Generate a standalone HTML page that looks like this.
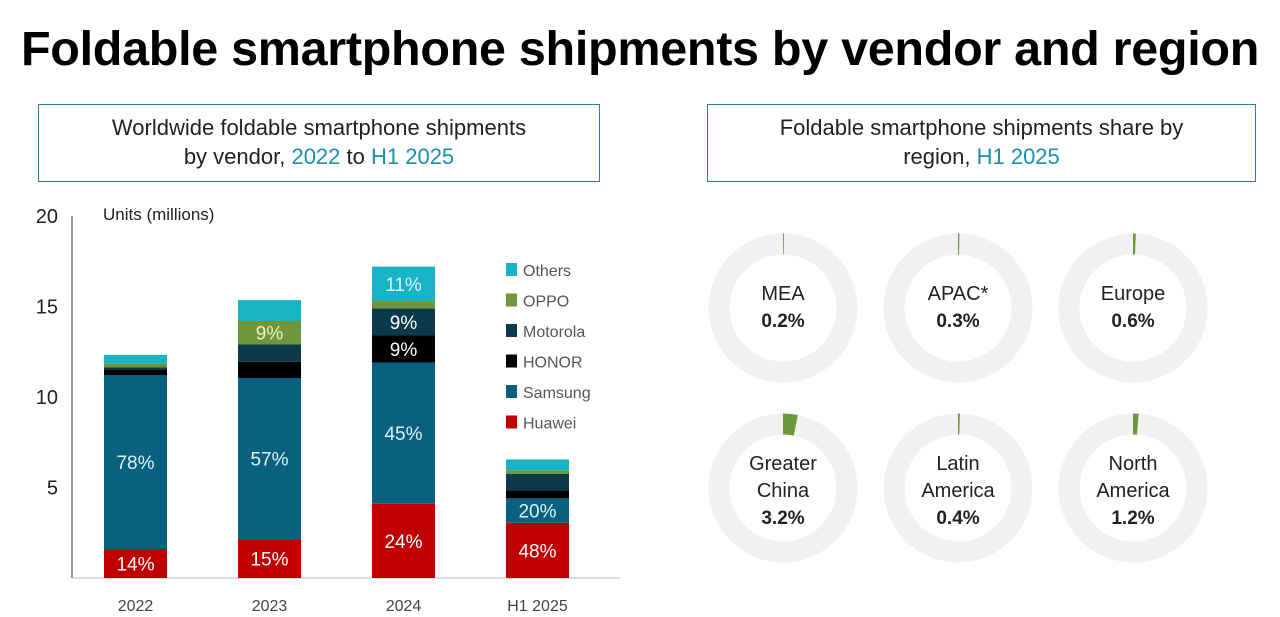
<!DOCTYPE html>
<html><head><meta charset="utf-8">
<style>
body{margin:0;width:1280px;height:617px;background:#fff;font-family:"Liberation Sans",sans-serif;overflow:hidden;position:relative}
#title{position:absolute;left:0;width:1280px;top:21px;text-align:center;font-size:48.5px;font-weight:bold;color:#000;letter-spacing:-0.3px}
.box{position:absolute;border:1.5px solid #2a7f9a;text-align:center;font-size:22px;color:#222;line-height:29px;box-sizing:border-box;padding-top:8px}
.hl{color:#1a8fb0}
svg{position:absolute;left:0;top:0}
</style></head><body>
<div id="title">Foldable smartphone shipments by vendor and region</div>
<div class="box" style="left:38px;top:104px;width:562px;height:78px">Worldwide foldable smartphone shipments<br>by vendor, <span class="hl">2022</span> to <span class="hl">H1 2025</span></div>
<div class="box" style="left:707px;top:104px;width:549px;height:78px">Foldable smartphone shipments share by<br>region, <span class="hl">H1 2025</span></div>
<svg id="chart" width="1280" height="617"></svg>
<script>
const categories=["2022","2023","2024","H1 2025"];
const vendors=["Huawei","Samsung","HONOR","Motorola","OPPO","Others"];
const huawei=[1.6,2.15,4.1,3.05];
const samsung=[9.6,8.9,7.8,1.35];
const honor=[0.33,0.9,1.5,0.45];
const motorola=[0.1,0.95,1.5,0.9];
const oppo=[0.2,1.3,0.4,0.2];
const others=[0.5,1.15,1.9,0.6];
const labels=[["14%","78%","","","",""],["15%","57%","","","9%",""],["24%","45%","9%","9%","","11%"],["48%","20%","","","",""]];
const yTicks=[5,10,15,20];
const regions=["MEA","APAC*","Europe","Greater China","Latin America","North America"];
const shares=[0.2,0.3,0.6,3.2,0.4,1.2];
const colors=["#c00000","#09617f","#000000","#0c3a4a","#6f963a","#19b3c6"];
const series=[huawei,samsung,honor,motorola,oppo,others];
const NS="http://www.w3.org/2000/svg";
const svg=document.getElementById('chart');
function mk(t,a,p){const e=document.createElementNS(NS,t);for(const k in a)e.setAttribute(k,a[k]);(p||svg).appendChild(e);return e;}
const y0=578,ppu=18.1;
const y=v=>y0-v*ppu;
const x=i=>104+i*134;
const bw=63;
let ax=mk('line',{x1:72,y1:216,x2:72,y2:y0,stroke:'#333','stroke-width':1});


let bx=mk('line',{x1:72,y1:y0,x2:620,y2:y0,stroke:'#bbb','stroke-width':1});


yTicks.forEach(t=>{const e=mk('text',{x:58,y:y(t)+7,'text-anchor':'end','font-size':20,fill:'#222'});e.textContent=t;

});
let ut=mk('text',{x:103,y:220,'font-size':17,fill:'#222'});ut.textContent='Units (millions)';


categories.forEach((c,i)=>{
  let cum=0;
  series.forEach((s,j)=>{
    const v=s[i];
    const r=mk('rect',{x:x(i),y:y(cum+v),width:bw,height:v*ppu,fill:colors[j]});
    
    
    const l=labels[i][j];
    if(l){const t=mk('text',{x:x(i)+bw/2,y:y(cum+v/2)+7,'text-anchor':'middle','font-size':19,fill:j==4?'#e8f5c0':(j==1||j==5?'#d8f4fa':'#fff')});t.textContent=l;
    
    }
    cum+=v;
  });
  const t=mk('text',{x:x(i)+bw/2,y:611,'text-anchor':'middle','font-size':16,fill:'#444'});t.textContent=c;
  
  
});
for(let j=5;j>=0;j--){
  const ly=271+(5-j)*30.5;
  const r=mk('rect',{x:506,y:ly-8,width:11,height:13,fill:colors[j]});
  
  
  const t=mk('text',{x:523,y:ly+5,'font-size':16,fill:'#555'});t.textContent=vendors[j];
  
  
}
const rm=64,sw=21;
regions.forEach((r,i)=>{
  const cx=783+(i%3)*175, cy=i<3?308:488;
  const g=mk('g',{});
  
  
  mk('circle',{cx:cx,cy:cy,r:rm,fill:'none',stroke:'#f1f1f1','stroke-width':sw},g);
  const a=shares[i]/100*2*Math.PI, a0=-Math.PI/2;
  const x1=cx+rm*Math.cos(a0),y1=cy+rm*Math.sin(a0),x2=cx+rm*Math.cos(a0+Math.max(a,0.012)),y2=cy+rm*Math.sin(a0+Math.max(a,0.012));
  const p=mk('path',{d:`M${x1},${y1} A${rm},${rm} 0 0 1 ${x2},${y2}`,fill:'none',stroke:'#6a9a3a','stroke-width':sw},g);
  
  
  const words=r=="Greater China"?["Greater","China"]:r=="Latin America"?["Latin","America"]:r=="North America"?["North","America"]:[r];
  const startY=words.length==1?cy-14:cy-24;
  words.forEach((w,k)=>{const t=mk('text',{x:cx,y:startY+k*27+6,'text-anchor':'middle','font-size':20,fill:'#222'},g);t.textContent=w;
  
  });
  const t=mk('text',{x:cx,y:startY+words.length*27+6,'text-anchor':'middle','font-size':19,'font-weight':'bold',fill:'#222'},g);t.textContent=shares[i].toFixed(1)+'%';
  
  
});
</script>
</body></html>
